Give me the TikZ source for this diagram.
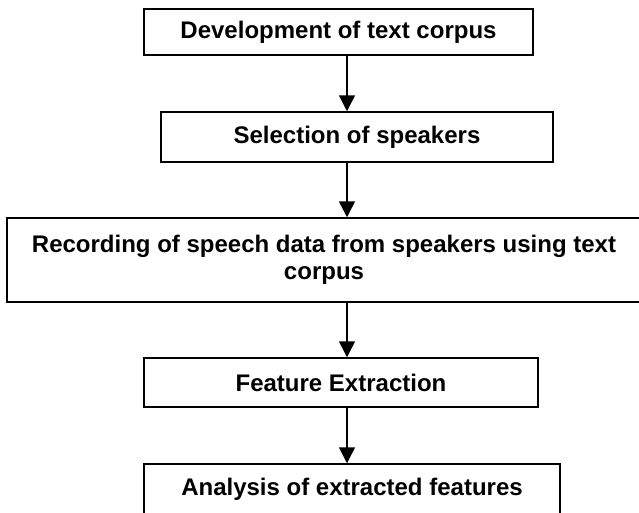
\documentclass[tikz,border=0pt]{standalone}
\usepackage{fontspec}
\setmainfont{Liberation Sans}
\usetikzlibrary{arrows.meta}

\tikzset{
  stage/.style={draw=black, line width=1.5pt, rectangle, inner sep=0pt,
    font=\fontsize{24}{27}\selectfont\bfseries, align=center},
  flow/.style={line width=1.5pt, -{Triangle[length=16pt,width=16pt]}}
}

\begin{document}
\begin{tikzpicture}[x=1pt, y=-1pt]
\useasboundingbox (0,0) rectangle (639,512);
%%%%% Boxes %%%%%
\node[stage, minimum width=389pt, minimum height=46pt] (corpus) at (338.5,32) {Development of text corpus};
\node[stage, minimum width=392pt, minimum height=50pt] (speakers) at (357,137) {Selection of speakers};
\node[stage, minimum width=634pt, minimum height=84pt] (recording) at (324,260) {Recording of speech data from speakers using text\\corpus};
\node[stage, minimum width=394pt, minimum height=49pt] (features) at (341,382.5) {Feature Extraction};
\node[stage, minimum width=416pt, minimum height=50pt] (analysis) at (352,489) {Analysis of extracted features};
%%%%% Arrows %%%%%
\coordinate (axis) at (347,0);
\draw[flow] (corpus.south -| axis) -- (speakers.north -| axis);
\draw[flow] (speakers.south -| axis) -- (recording.north -| axis);
\draw[flow] (recording.south -| axis) -- (features.north -| axis);
\draw[flow] (features.south -| axis) -- (analysis.north -| axis);
\end{tikzpicture}
\end{document}
